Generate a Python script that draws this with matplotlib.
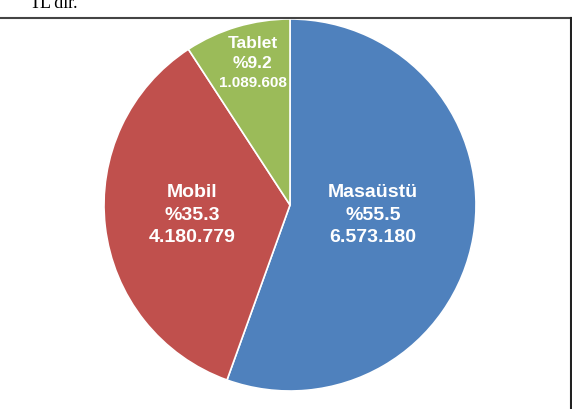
import matplotlib
matplotlib.use("Agg")
import matplotlib.pyplot as plt
from matplotlib.lines import Line2D

# data
categories = ["Masaüstü", "Mobil", "Tablet"]
percents = [55.5, 35.3, 9.2]
amounts = [6573180, 4180779, 1089608]
colors = ["#4F81BD", "#C0504D", "#9BBB59"]

# label centres in pie coords (radius = 1)
label_pos = [(0.446, -0.054), (-0.527, -0.054), (-0.20, 0.763)]


def fmt_tr(n):
    return f"{n:,}".replace(",", ".")


fig = plt.figure(figsize=(5.72, 4.09), dpi=100)
fig.patch.set_facecolor("white")

ax = fig.add_axes([104 / 572, 18 / 409, 372 / 572, 372 / 409])
ax.pie(percents, colors=colors, startangle=90, counterclock=False,
       wedgeprops=dict(edgecolor="white", linewidth=1.2))
ax.set_xlim(-1, 1)
ax.set_ylim(-1, 1)
ax.set_aspect("equal")
ax.axis("off")

for i, (name, pct, amt) in enumerate(zip(categories, percents, amounts)):
    x, y = label_pos[i]
    big = 14 if i < 2 else 12.5
    small = 14 if i < 2 else 11
    step = 0.121 if i < 2 else 0.105
    kw = dict(color="white", fontweight="bold", family="Liberation Sans",
              ha="center", va="center")
    ax.text(x, y + step, name, fontsize=big, **kw)
    ax.text(x, y, f"%{pct}", fontsize=big, **kw)
    ax.text(x, y - step, fmt_tr(amt), fontsize=small, **kw)

# frame lines around the chart box
fig.add_artist(Line2D([0, 1], [1 - 18 / 409] * 2, color="#444444",
                      linewidth=1.5, transform=fig.transFigure))
fig.add_artist(Line2D([571 / 572] * 2, [0, 1 - 18 / 409], color="#222222",
                      linewidth=1.5, transform=fig.transFigure))

# cut-off text line from the page above
fig.text(30 / 572, 1 - 8 / 409, "TL'dir.", family="Liberation Serif",
         fontsize=13, va="baseline", ha="left", color="black")

fig.savefig("out.png", dpi=100, facecolor="white")
